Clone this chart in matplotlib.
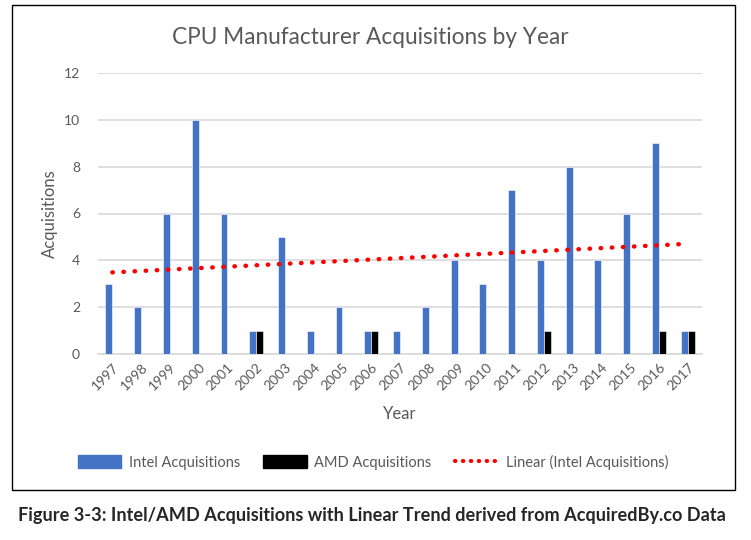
import numpy as np
import matplotlib
matplotlib.use("Agg")
import matplotlib.pyplot as plt
from matplotlib.patches import Patch, Rectangle
from matplotlib.lines import Line2D

years = [str(y) for y in range(1997, 2018)]
intel = [3, 2, 6, 10, 6, 1, 5, 1, 2, 1, 1, 2, 4, 3, 7, 4, 8, 4, 6, 9, 1]
amd = [0, 0, 0, 0, 0, 1, 0, 0, 0, 1, 0, 0, 0, 0, 0, 1, 0, 0, 0, 1, 1]

plt.rcParams['font.family'] = ['Lato', 'DejaVu Sans']
grey = '#595959'

fig = plt.figure(figsize=(7.51, 5.40), dpi=100)
ax = fig.add_axes([98 / 751, 1 - 354 / 540, 604 / 751, (354 - 73) / 540])

x = np.arange(len(years))
w = 0.24
ax.bar(x - w / 2, intel, width=w, color='#4472C4', edgecolor='white', linewidth=0.4, zorder=3)
ax.bar(x + w / 2, amd, width=w, color='black', edgecolor='white', linewidth=0.4, zorder=3)

# linear trend of the intel series
k, b = np.polyfit(x, intel, 1)
dots = (0, (0.1, 2.4))
ax.plot(x, k * x + b, color='red', linestyle=dots, linewidth=3.2,
        dash_capstyle='round', zorder=4)

ax.set_xlim(-0.5, len(years) - 0.5)
ax.set_ylim(0, 12)
ax.set_yticks(range(0, 13, 2))
ax.set_xticks(x)
ax.set_xticklabels(years, rotation=45, ha='right', rotation_mode='anchor')
ax.grid(axis='y', color='#D9D9D9', linewidth=1.2, zorder=0)
ax.set_axisbelow(True)
for s in ['top', 'right', 'left']:
    ax.spines[s].set_visible(False)
ax.spines['bottom'].set_color('#D9D9D9')
ax.spines['bottom'].set_linewidth(1.2)
ax.tick_params(axis='both', length=0, labelsize=10, colors=grey)
ax.tick_params(axis='y', pad=13)
ax.tick_params(axis='x', pad=5)

ax.set_ylabel('Acquisitions', fontsize=12, color=grey, labelpad=4)
ax.set_xlabel('Year', fontsize=12, color=grey, labelpad=10)
fig.text(370 / 751, 1 - 37 / 540, 'CPU Manufacturer Acquisitions by Year',
         fontsize=16.3, color=grey, ha='center', va='center')

handles = [Patch(color='#4472C4'), Patch(color='black'),
           Line2D([], [], color='red', linestyle=(0, (0.1, 1.8)), linewidth=3.0,
                  dash_capstyle='round')]
labels = ['Intel Acquisitions', 'AMD Acquisitions', 'Linear (Intel Acquisitions)']
fig.legend(handles, labels, loc='center', bbox_to_anchor=(373 / 751, 1 - 462 / 540),
           ncol=3, frameon=False, fontsize=10.5, handlelength=3.0, handleheight=0.9,
           columnspacing=1.6, handletextpad=0.5, labelcolor=grey)

fig.patches.append(Rectangle((12 / 751, 1 - 490 / 540), 723 / 751, 485 / 540,
                             transform=fig.transFigure, fill=False,
                             edgecolor='black', linewidth=1.0))

fig.text(372 / 751, 1 - 515 / 540,
         'Figure 3-3: Intel/AMD Acquisitions with Linear Trend derived from AcquiredBy.co Data',
         fontsize=13.1, fontweight='bold', color='#262626', ha='center', va='center')

fig.savefig('out.png', dpi=100)
